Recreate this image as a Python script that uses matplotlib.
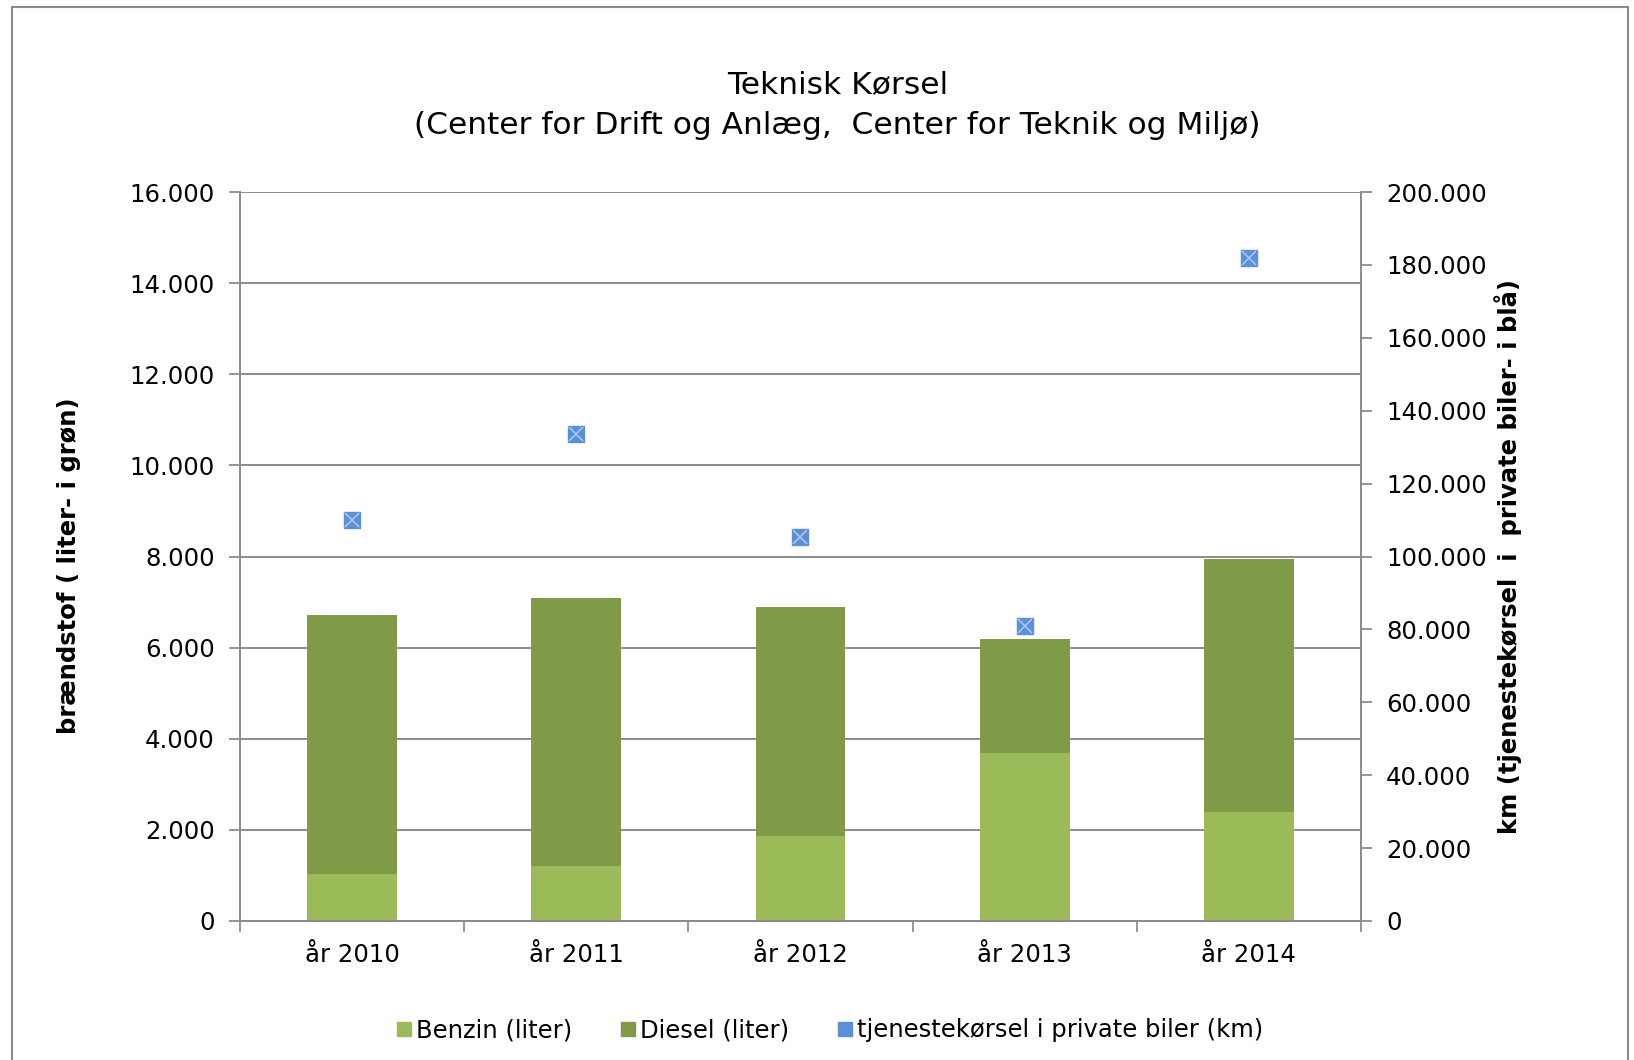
import numpy as np
import matplotlib.pyplot as plt
from matplotlib.patches import Rectangle
from matplotlib.lines import Line2D
from matplotlib.ticker import FuncFormatter


#######################
#   DATA
#######################

years = ["år 2010", "år 2011", "år 2012", "år 2013", "år 2014"]
benzin = [1040, 1200, 1870, 3680, 2400]          # liter
diesel = [5680, 5890, 5030, 2520, 5540]          # liter
km_private = [110000, 133700, 105400, 81000, 182000]  # km

green_light = "#9BBB59"
green_dark = "#7F9B47"
blue = "#5B8FD6"
grid_col = "#8C8C8C"

plt.rcParams['font.family'] = ['DejaVu Sans']


def dots(v, pos):
    return f"{int(v):,}".replace(",", ".")


#######################
#   FIGURE
#######################

fig = plt.figure(figsize=(16.34, 10.6), dpi=100)
fig.patches.append(Rectangle((12 / 1634, -0.01), 1616 / 1634, 1 - 7 / 1060 + 0.01,
                             transform=fig.transFigure, fill=False,
                             edgecolor="#8A8A8A", linewidth=1.5))

ax = fig.add_axes([240 / 1634, 1 - 921 / 1060, 1121 / 1634, 729 / 1060])
ax2 = ax.twinx()

x = np.arange(len(years))
ax.bar(x, benzin, width=0.4, color=green_light, zorder=3)
ax.bar(x, diesel, width=0.4, bottom=benzin, color=green_dark, zorder=3)

ax2.plot(x, km_private, linestyle="none", marker="s", markersize=12,
         markerfacecolor=blue, markeredgecolor=blue, zorder=4)
ax2.plot(x, km_private, linestyle="none", marker="x", markersize=10,
         markeredgecolor="#A9C8EE", markeredgewidth=1.2, zorder=5)

ax.set_xlim(-0.5, len(years) - 0.5)
ax.set_ylim(0, 16000)
ax2.set_ylim(0, 200000)
ax.set_yticks(np.arange(0, 16001, 2000))
ax2.set_yticks(np.arange(0, 200001, 20000))
ax.yaxis.set_major_formatter(FuncFormatter(dots))
ax2.yaxis.set_major_formatter(FuncFormatter(dots))

ax.set_xticks(x)
ax.set_xticklabels(years, fontsize=17.6)
ax.set_xticks(np.arange(-0.5, len(years)), minor=True)
ax.tick_params(axis="x", which="major", length=0, pad=16)
ax.tick_params(axis="x", which="minor", length=8, color=grid_col, width=1.3)
ax.tick_params(axis="y", length=8, color=grid_col, width=1.3, labelsize=17.6, pad=10)
ax2.tick_params(axis="y", length=8, color=grid_col, width=1.3, labelsize=17.6, pad=10)

ax.grid(axis="y", color=grid_col, linewidth=1.4, zorder=0)
ax.set_axisbelow(True)
for a in (ax, ax2):
    a.spines["top"].set_visible(False)
    for s in ("left", "right", "bottom"):
        a.spines[s].set_color(grid_col)
        a.spines[s].set_linewidth(1.4)

ax.set_ylabel("brændstof ( liter- i grøn)", fontsize=17.5, fontweight="bold", labelpad=30)
ax.yaxis.set_label_coords(-0.142, 0.488)
ax2.set_ylabel("km (tjenestekørsel  i  private biler- i blå)", fontsize=17.5,
               fontweight="bold", labelpad=5)

fig.text(0.5125, 0.920, "Teknisk Kørsel", ha="center", va="center", fontsize=22.5)
fig.text(0.5125, 0.882, "(Center for Drift og Anlæg,  Center for Teknik og Miljø)",
         ha="center", va="center", fontsize=22.5)

handles = [
    Line2D([], [], linestyle="none", marker="s", markersize=10,
           markerfacecolor=green_light, markeredgecolor=green_light),
    Line2D([], [], linestyle="none", marker="s", markersize=10,
           markerfacecolor=green_dark, markeredgecolor=green_dark),
    Line2D([], [], linestyle="none", marker="s", markersize=10,
           markerfacecolor=blue, markeredgecolor=blue),
]
fig.legend(handles, ["Benzin (liter)", "Diesel (liter)", "tjenestekørsel i private biler (km)"],
           loc="center", bbox_to_anchor=(0.508, 0.028), ncol=3, frameon=False,
           fontsize=17.5, handlelength=0.6, handletextpad=0.2, columnspacing=2.0)

fig.savefig("out.png", dpi=100)
